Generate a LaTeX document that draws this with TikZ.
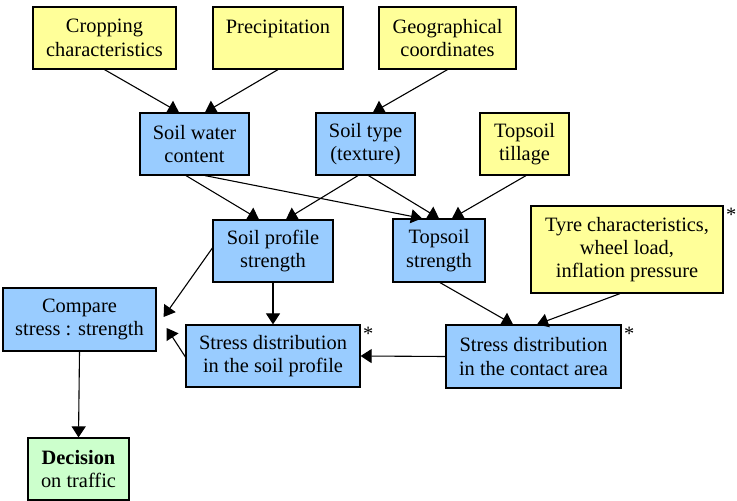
\documentclass[tikz,border=0pt]{standalone}
\usepackage{fontspec}
\setmainfont{Liberation Serif}
\usetikzlibrary{arrows.meta}
\definecolor{factor}{HTML}{FFFF99}
\definecolor{soil}{HTML}{99CCFF}
\definecolor{decide}{HTML}{CCFFCC}
\begin{document}
\begin{tikzpicture}[x=0.5pt,y=-0.5pt,
		box/.style={draw,line width=0.6pt,inner sep=0pt,align=center,
			font=\fontsize{10.2}{11.7}\selectfont},
		link/.style={-{Triangle[length=5.5pt,width=7pt]},line width=0.55pt},
		star/.style={anchor=north west,inner sep=1pt,font=\fontsize{10.2}{11.7}\selectfont}]
	\useasboundingbox (0,0) rectangle (737,501);
	% input factors
	\node (crop) [box,fill=factor,minimum width=71.5pt,minimum height=31pt] at (104.5,38) {Cropping\\characteristics};
	\node (precip) [box,fill=factor,minimum width=65pt,minimum height=31pt] at (278,38) {Precipitation\\\mbox{}};
	\node (geo) [box,fill=factor,minimum width=68.5pt,minimum height=31pt] at (447.5,38) {Geographical\\coordinates};
	\node (till) [box,fill=factor,minimum width=44.5pt,minimum height=31pt] at (524.5,144) {Topsoil\\tillage};
	\node (tyre) [box,fill=factor,minimum width=96pt,minimum height=43.5pt] at (627,249.5) {Tyre characteristics,\\wheel load,\\inflation pressure};
	% soil and stress
	\node (water) [box,fill=soil,minimum width=54.5pt,minimum height=31pt] at (194.5,144) {Soil water\\content};
	\node (type) [box,fill=soil,minimum width=49.5pt,minimum height=31pt] at (365.5,144) {Soil type\\(texture)};
	\node (profile) [box,fill=soil,minimum width=60pt,minimum height=31pt] at (273,251) {Soil profile\\strength};
	\node (topsoil) [box,fill=soil,minimum width=46pt,minimum height=31.5pt] at (439,250.5) {Topsoil\\strength};
	\node (compare) [box,fill=soil,minimum width=76.5pt,minimum height=31.5pt] at (79.5,319.5) {Compare\\stress : strength};
	\node (sprofile) [box,fill=soil,minimum width=87pt,minimum height=31pt] at (273,356) {Stress distribution\\in the soil profile};
	\node (scontact) [box,fill=soil,minimum width=87.5pt,minimum height=31.5pt] at (533.5,356.5) {Stress distribution\\in the contact area};
	\node (decision) [box,fill=decide,minimum width=50.5pt,minimum height=31pt] at (78.5,469) {\textbf{Decision}\\on traffic};
	% asterisks
	\node (s1) [star] at (tyre.north east) {*};
	\node (s2) [star] at (sprofile.north east) {*};
	\node (s3) [star] at (scontact.north east) {*};
	% connectors
	\draw [link] (crop.south) -- ([xshift=-7.75pt]water.north);
	\draw [link] (precip.south) -- ([xshift=5.25pt]water.north);
	\draw [link] (geo.south) -- ([xshift=3.75pt]type.north);
	\draw [link] ([xshift=-4.25pt]water.south) -- ([xshift=-7pt]profile.north);
	\draw [link] ([xshift=5.25pt]water.south) -- ([xshift=-8.5pt]topsoil.north);
	\draw [link] ([xshift=-3.75pt]type.south) -- ([xshift=6.5pt]profile.north);
	\draw [link] ([xshift=1.5pt]type.south) -- (topsoil.north);
	\draw [link] ([xshift=0.75pt]till.south) -- ([xshift=6.5pt]topsoil.north);
	\draw [link] ([yshift=1.5pt]profile.west) -- ([xshift=3.5pt,yshift=1.25pt]compare.east);
	\draw [link] (profile.south) -- (sprofile.north);
	\draw [link] ([yshift=-0.5pt]sprofile.west) -- ([xshift=5pt,yshift=-4.25pt]compare.east);
	\draw [link] (scontact.west) -- (sprofile.east);
	\draw [link] ([xshift=0.5pt]topsoil.south) -- ([xshift=-10.25pt]scontact.north);
	\draw [link] ([xshift=-3.5pt]tyre.south) -- ([xshift=1.75pt]scontact.north);
	\draw [link] (compare.south) -- (decision.north);
\end{tikzpicture}
\end{document}
